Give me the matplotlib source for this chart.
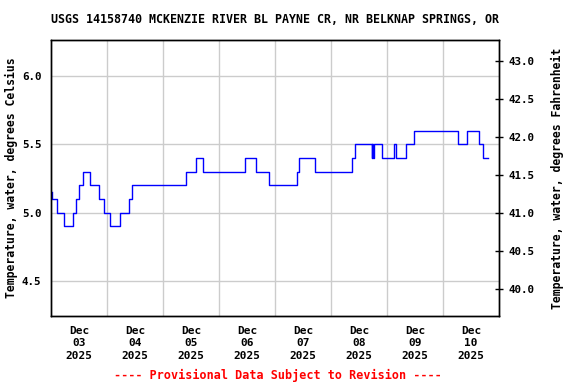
import matplotlib
matplotlib.use("Agg")
import matplotlib.pyplot as plt
from matplotlib.ticker import FixedLocator, FormatStrFormatter, NullFormatter

# hours since Dec 03 2025 00:00 where the reading changes, and the new value (deg C)
change_hours = [0.25, 0.5, 2.4, 5.7, 9.3, 10.9, 12.1, 13.9, 16.9, 20.4, 22.9,
                25.2, 29.7, 33.6, 34.9, 58.0, 62.0, 65.2, 83.3, 88.0, 93.6,
                105.6, 106.4, 113.3, 129.2, 130.4, 137.4, 137.7, 138.0, 138.3,
                142.0, 146.8, 147.8, 152.2, 155.6, 174.6, 178.1, 183.6, 185.3,
                187.2]
temps_c = [5.15, 5.1, 5.0, 4.9, 5.0, 5.1, 5.2, 5.3, 5.2, 5.1, 5.0,
           4.9, 5.0, 5.1, 5.2, 5.3, 5.4, 5.3, 5.4, 5.3, 5.2,
           5.3, 5.4, 5.3, 5.4, 5.5, 5.4, 5.5, 5.4, 5.5,
           5.4, 5.5, 5.4, 5.5, 5.6, 5.5, 5.6, 5.5, 5.4,
           5.4]

day_labels = ["Dec\n03\n2025", "Dec\n04\n2025", "Dec\n05\n2025", "Dec\n06\n2025",
              "Dec\n07\n2025", "Dec\n08\n2025", "Dec\n09\n2025", "Dec\n10\n2025"]
c_ticks = [4.5, 5.0, 5.5, 6.0]
f_ticks = [40.0, 40.5, 41.0, 41.5, 42.0, 42.5, 43.0]

plt.rcParams['font.family'] = 'DejaVu Sans Mono'
plt.rcParams['font.weight'] = 'bold'

fig = plt.figure(figsize=(5.76, 3.84), dpi=100)
ax = fig.add_axes([51 / 576, 1 - 316 / 384, 448 / 576, 276 / 384])

ax.plot(change_hours, temps_c, drawstyle='steps-post', color='#0000ff', lw=1)

c_lo, c_hi = 4.244, 6.263
ax.set_xlim(0, 192)
ax.set_ylim(c_lo, c_hi)

# gridlines at midnight, labels at noon
ax.xaxis.set_major_locator(FixedLocator([24 * i for i in range(1, 8)]))
ax.xaxis.set_major_formatter(NullFormatter())
ax.set_xticks([12 + 24 * i for i in range(8)], day_labels, minor=True)
ax.tick_params(axis='x', which='both', length=0, labelsize=8, pad=7)
for t in ax.get_xticklabels(minor=True):
    t.set_linespacing(1.3)
    t.set_fontweight('bold')

ax.set_yticks(c_ticks)
ax.yaxis.set_major_formatter(FormatStrFormatter('%.1f'))
ax.tick_params(axis='y', length=0, labelsize=7.8, pad=7)
ax.grid(True, color='#cccccc', lw=1)
ax.set_axisbelow(True)

ax.set_ylabel("Temperature, water, degrees Celsius", fontsize=8.3,
              fontweight='bold', labelpad=3)
ax.set_title("USGS 14158740 MCKENZIE RIVER BL PAYNE CR, NR BELKNAP SPRINGS, OR",
             fontsize=8.4, fontweight='bold', pad=12)

ax2 = ax.twinx()
ax2.set_ylim(c_lo * 1.8 + 32, c_hi * 1.8 + 32)
ax2.set_yticks(f_ticks)
ax2.yaxis.set_major_formatter(FormatStrFormatter('%.1f'))
ax2.tick_params(axis='y', direction='inout', length=6, width=1, labelsize=7.8, pad=4)
ax2.set_ylabel("Temperature, water, degrees Fahrenheit", fontsize=8.3,
               fontweight='bold', labelpad=12)

for a in (ax, ax2):
    for s in a.spines.values():
        s.set_color('black')
        s.set_linewidth(1)

fig.text(278 / 576, 1 - 375 / 384, "---- Provisional Data Subject to Revision ----",
         color='red', fontsize=8.5, fontweight='bold', ha='center', va='center')

fig.savefig("out.png", dpi=100)
